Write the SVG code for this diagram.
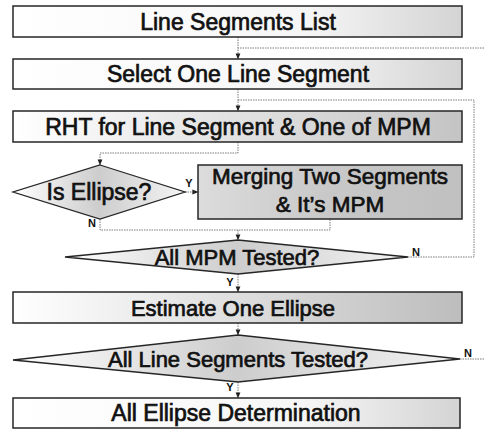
<svg xmlns="http://www.w3.org/2000/svg" width="484" height="430" viewBox="0 0 484 430">
  <style>
    .box { stroke: #262626; stroke-width: 1.5; }
    .dia { stroke: #262626; stroke-width: 1.3; }
    .txt { font-family: "Liberation Sans", Arial, sans-serif; font-size: 23px; fill: #111; stroke: #111; stroke-width: 0.7; text-anchor: middle; }
    .lbl { font-family: "Liberation Sans", Arial, sans-serif; font-size: 11px; font-weight: bold; fill: #111; text-anchor: middle; }
    .wire { fill: none; stroke: #7a7a7a; stroke-width: 1; stroke-dasharray: 1.5 1; }
  </style>
  <defs>
    <marker id="arrow" viewBox="0 0 8 8" refX="7.5" refY="4" markerWidth="6" markerHeight="6" orient="auto">
      <path d="M0,0.8 L8,4 L0,7.2 Z" fill="#222"/>
    </marker>
    <linearGradient id="gLight" x1="0" y1="0" x2="1" y2="0">
      <stop offset="0" stop-color="#ffffff"/>
      <stop offset="0.65" stop-color="#f6f6f6"/>
      <stop offset="1" stop-color="#d4d4d4"/>
    </linearGradient>
    <linearGradient id="gMid" x1="0" y1="0" x2="1" y2="0">
      <stop offset="0" stop-color="#ffffff"/>
      <stop offset="0.45" stop-color="#e4e4e4"/>
      <stop offset="1" stop-color="#c4c4c4"/>
    </linearGradient>
    <linearGradient id="gDark" x1="0" y1="0" x2="1" y2="0">
      <stop offset="0" stop-color="#dcdcdc"/>
      <stop offset="0.5" stop-color="#c8c8c8"/>
      <stop offset="1" stop-color="#c0c0c0"/>
    </linearGradient>
    <linearGradient id="gEst" x1="0" y1="0" x2="1" y2="0">
      <stop offset="0" stop-color="#ffffff"/>
      <stop offset="0.35" stop-color="#e8e8e8"/>
      <stop offset="1" stop-color="#bdbdbd"/>
    </linearGradient>
    <linearGradient id="gDia" x1="0" y1="0" x2="1" y2="0">
      <stop offset="0" stop-color="#ffffff"/>
      <stop offset="0.5" stop-color="#cdcdcd"/>
      <stop offset="1" stop-color="#f4f4f4"/>
    </linearGradient>
  </defs>

  <!-- connectors -->
  <g id="connectors">
    <path class="wire" d="M238,37 V59" marker-end="url(#arrow)"/>
    <path class="wire" d="M484,48 H238"/>
    <path class="wire" d="M238,89 V111" marker-end="url(#arrow)"/>
    <path class="wire" d="M408,257 H474 V100 H238"/>
    <path class="wire" d="M238,142 V153 H100 V165" marker-end="url(#arrow)"/>
    <path class="wire" d="M185,192 H198" marker-end="url(#arrow)"/>
    <path class="wire" d="M100,219 V230 H330 V219"/>
    <path class="wire" d="M238,230 V240" marker-end="url(#arrow)"/>
    <path class="wire" d="M238,274 V292" marker-end="url(#arrow)"/>
    <path class="wire" d="M238,323 V335" marker-end="url(#arrow)"/>
    <path class="wire" d="M460,359 H484"/>
    <path class="wire" d="M238,382 V398" marker-end="url(#arrow)"/>
    <text class="lbl" x="189" y="187">Y</text>
    <text class="lbl" x="92" y="227">N</text>
    <text class="lbl" x="416" y="256">N</text>
    <text class="lbl" x="230" y="286">Y</text>
    <text class="lbl" x="468" y="357">N</text>
    <text class="lbl" x="230" y="391">Y</text>
  </g>

  <g id="line-segments-list">
    <rect class="box" x="13" y="6" width="449" height="31" fill="url(#gLight)"/>
    <text class="txt" x="238" y="29.5">Line Segments List</text>
  </g>

  <g id="select-one-line-segment">
    <rect class="box" x="13" y="59" width="449" height="30" fill="url(#gLight)"/>
    <text class="txt" x="238" y="82">Select One Line Segment</text>
  </g>

  <g id="rht">
    <rect class="box" x="13" y="111" width="449" height="31" fill="url(#gMid)"/>
    <text class="txt" x="238" y="134.5">RHT for Line Segment &amp; One of MPM</text>
  </g>

  <g id="is-ellipse">
    <polygon class="dia" points="100,165 185,192 100,219 13,192" fill="url(#gDia)"/>
    <text class="txt" x="99" y="200">Is Ellipse?</text>
  </g>

  <g id="merging">
    <rect class="box" x="198" y="165" width="264" height="54" fill="url(#gDark)"/>
    <text class="txt" x="330" y="184" style="font-size:22.5px">Merging Two Segments</text>
    <text class="txt" x="330" y="212" style="font-size:22.5px">&amp; It’s MPM</text>
  </g>

  <g id="all-mpm-tested">
    <polygon class="dia" points="238,240 408,257 238,274 65,257" fill="url(#gDia)"/>
    <text class="txt" x="237" y="265" style="font-size:22px">All MPM Tested?</text>
  </g>

  <g id="estimate-one-ellipse">
    <rect class="box" x="13" y="292" width="449" height="31" fill="url(#gEst)"/>
    <text class="txt" x="233" y="315.5" style="font-size:22px">Estimate One Ellipse</text>
  </g>

  <g id="all-line-segments-tested">
    <polygon class="dia" points="238,335 460,359 238,382 13,360" fill="url(#gDia)"/>
    <text class="txt" x="238" y="367" style="font-size:22px">All Line Segments Tested?</text>
  </g>

  <g id="all-ellipse-determination">
    <rect class="box" x="13" y="398" width="447" height="30" fill="url(#gLight)"/>
    <text class="txt" x="236" y="421">All Ellipse Determination</text>
  </g>
</svg>
